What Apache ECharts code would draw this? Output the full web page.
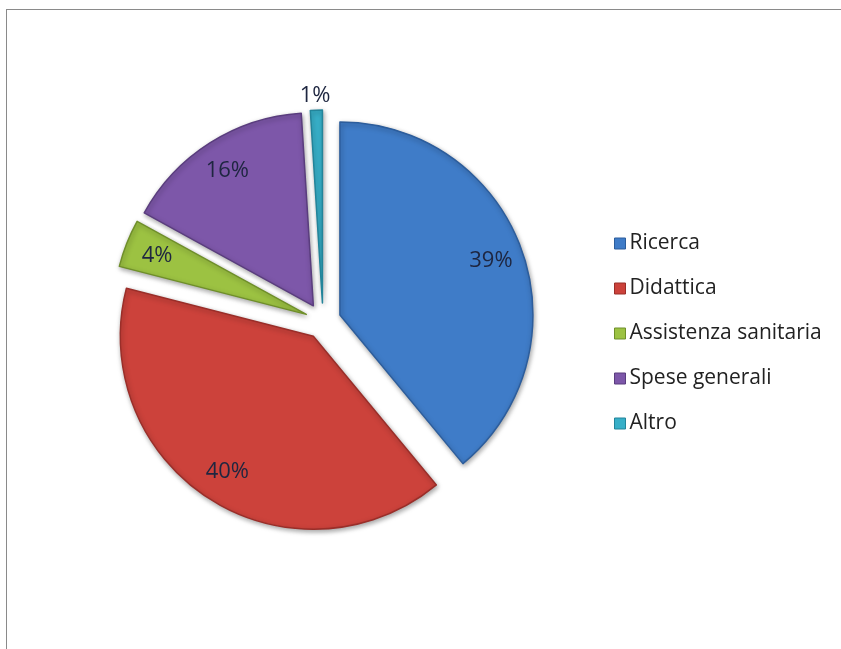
<!DOCTYPE html>
<html>
<head>
<meta charset="utf-8">
<script src="https://cdn.jsdelivr.net/npm/echarts@6/dist/echarts.min.js"></script>
<style>
html,body{margin:0;padding:0;background:#fff;overflow:hidden;}
#frame{position:absolute;left:6px;top:9px;width:1000px;height:1000px;border:1px solid #8a8a8a;border-right:none;border-bottom:none;}
#chart{position:absolute;left:0;top:0;width:841px;height:649px;}
</style>
</head>
<body>
<div id="frame"></div>
<div id="chart"></div>
<script>
var categories = ['Ricerca', 'Didattica', 'Assistenza sanitaria', 'Spese generali', 'Altro'];
var values = [39, 40, 4, 16, 1];
var colors = ['#3f7cc8', '#cc423b', '#9cc242', '#7d57a9', '#37afc8'];
var darks = ['#2c5d9c', '#9a2e29', '#6f8f2a', '#5a3d7e', '#23849a'];

var mainData = categories.map(function (n, i) {
  return {name: n, value: values[i], selected: true,
    itemStyle: {color: colors[i], borderColor: darks[i], borderWidth: 1.5}};
});
var labelData = categories.map(function (n, i) {
  var d = {name: n, value: values[i], selected: true, itemStyle: {color: 'rgba(0,0,0,0)'}};
  if (n === 'Altro') {
    d.label = {position: 'outside', distance: 2};
    d.labelLine = {show: true, length: 10, length2: 0, lineStyle: {opacity: 0}};
  }
  return d;
});

var chart = echarts.init(document.getElementById('chart'), null, {renderer: 'canvas'});
chart.setOption({
  animation: false,
  color: colors,
  legend: {
    orient: 'vertical',
    left: 609,
    top: 228,
    itemWidth: 11,
    itemHeight: 11,
    itemGap: 24,
    icon: 'rect',
    selectedMode: false,
    textStyle: {fontFamily: 'Open Sans', fontSize: 21, color: '#222222', padding: [0, 0, 0, -1]},
    data: categories.map(function (n, i) {
      return {name: n, itemStyle: {color: colors[i], borderColor: darks[i], borderWidth: 1}};
    })
  },
  series: [
    {
      type: 'pie',
      center: [323, 321],
      radius: 193,
      startAngle: 90,
      clockwise: true,
      selectedMode: 'multiple',
      selectedOffset: 18,
      silent: true,
      label: {show: false},
      labelLine: {show: false},
      emphasis: {disabled: true},
      itemStyle: {shadowBlur: 5, shadowColor: 'rgba(0,0,0,0.35)', shadowOffsetX: 1, shadowOffsetY: 2},
      data: mainData
    },
    {
      type: 'pie',
      center: [323, 321],
      radius: [122, 193],
      startAngle: 90,
      clockwise: true,
      selectedMode: 'multiple',
      selectedOffset: 18,
      silent: true,
      emphasis: {disabled: true},
      label: {show: true, position: 'inner', formatter: '{d}%', fontFamily: 'Open Sans', fontSize: 22, color: '#1e2640'},
      labelLine: {show: false},
      labelLayout: function (p) {
        return p.dataIndex === 4 ? {align: 'center', dx: 4, dy: -4} : {};
      },
      data: labelData
    }
  ]
});
</script>
</body>
</html>
